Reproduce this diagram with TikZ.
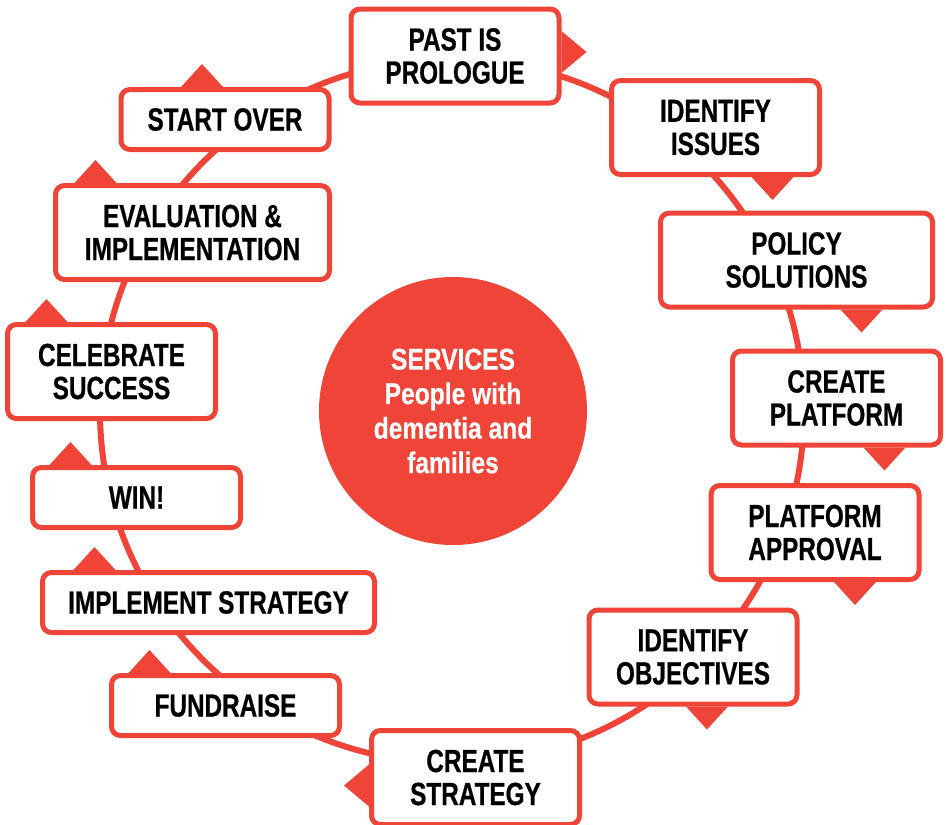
\documentclass[tikz,border=0pt]{standalone}
\usepackage{fontspec}
\newfontfamily\stagefont[FakeStretch=0.76, BoldFeatures={FakeBold=0.6}]{Liberation Sans}
\newfontfamily\hubfont[FakeStretch=0.82, BoldFeatures={FakeBold=0.4}]{Liberation Sans}
\definecolor{ringred}{HTML}{EF4437}

\begin{document}
\begin{tikzpicture}[
    x=1pt, y=-1pt,
    stage/.style={draw=ringred, line width=5pt, fill=white, rounded corners=9pt, align=center, minimum width=208pt, minimum height=94pt, inner sep=2pt, font=\stagefont\bfseries\fontsize{32}{33}\selectfont},
    short/.style={minimum height=60pt},
    hub/.style={circle, fill=ringred, minimum size=268pt, inner sep=0pt, align=center, text=white, font=\hubfont\bfseries\fontsize{30}{34.5}\selectfont},
    ring/.style={draw=ringred, line width=6pt},
    tip/.style={fill=ringred}
]
    \useasboundingbox (0,0) rectangle (946,825);

    % the cycle and its centre
    \node[hub] (hub) at (453,411) {SERVICES\\People with\\dementia and\\families};
    \draw[ring] (452,411) circle[radius=352pt];

    % stages, clockwise from the top
    \node[stage] (pp) at (455,56) {PAST IS\\PROLOGUE};
    \node[stage] (ii) at (715.5,127.5) {IDENTIFY\\ISSUES};
    \node[stage, minimum width=272pt] (ps) at (796.5,260) {POLICY\\SOLUTIONS};
    \node[stage] (cp) at (836.5,398) {CREATE\\PLATFORM};
    \node[stage] (pa) at (815,532.5) {PLATFORM\\APPROVAL};
    \node[stage] (io) at (693,657) {IDENTIFY\\OBJECTIVES};
    \node[stage] (cs) at (475.5,777.5) {CREATE\\STRATEGY};
    \node[stage, short, minimum width=228pt] (fr) at (225.5,705.5) {FUNDRAISE};
    \node[stage, short, minimum width=332pt] (is) at (208.5,602.5) {IMPLEMENT STRATEGY};
    \node[stage, short] (win) at (136.5,497.5) {WIN!};
    \node[stage] (su) at (111.5,371.5) {CELEBRATE\\SUCCESS};
    \node[stage, minimum width=274pt] (ev) at (192.5,232.5) {EVALUATION \&\\IMPLEMENTATION};
    \node[stage, short] (so) at (225,119.5) {START OVER};

    % direction tips
    \fill[tip] ([yshift=25pt]pp.east) -- ++(25,21) -- ++(-25,21) -- cycle;
    \fill[tip] ([xshift=36pt]ii.south) -- ++(21,23) -- ++(21,-23) -- cycle;
    \fill[tip] ([xshift=44pt]ps.south) -- ++(21,23) -- ++(21,-23) -- cycle;
    \fill[tip] ([xshift=27pt]cp.south) -- ++(21,23) -- ++(21,-23) -- cycle;
    \fill[tip] ([xshift=19pt]pa.south) -- ++(21,23) -- ++(21,-23) -- cycle;
    \fill[tip] ([xshift=-7pt]io.south) -- ++(21,23) -- ++(21,-23) -- cycle;
    \fill[tip] ([yshift=13pt]cs.west) -- ++(-25,21) -- ++(25,21) -- cycle;
    \fill[tip] ([xshift=-97pt]fr.north) -- ++(21,-23) -- ++(21,23) -- cycle;
    \fill[tip] ([xshift=-135pt]is.north) -- ++(21,-23) -- ++(21,23) -- cycle;
    \fill[tip] ([xshift=-87pt]win.north) -- ++(21,-23) -- ++(21,23) -- cycle;
    \fill[tip] ([xshift=-86pt]su.north) -- ++(21,-23) -- ++(21,23) -- cycle;
    \fill[tip] ([xshift=-118pt]ev.north) -- ++(21,-23) -- ++(21,23) -- cycle;
    \fill[tip] ([xshift=-44pt]so.north) -- ++(21,-23) -- ++(21,23) -- cycle;
\end{tikzpicture}
\end{document}
